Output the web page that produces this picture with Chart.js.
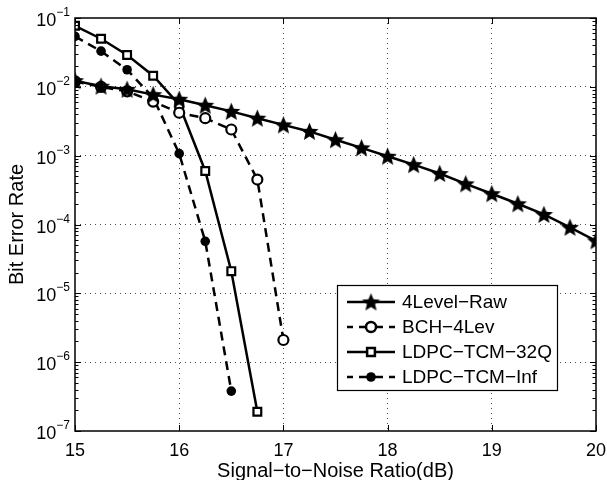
<!DOCTYPE html>
<html>
<head>
<title>Bit Error Rate vs SNR</title>
<script src="https://cdn.jsdelivr.net/npm/chart.js"></script>
<style>
  body { margin: 0; background: #fff; }
</style>
</head>
<body>
<canvas id="berChart" width="607" height="480"></canvas>
<script>
// x values (dB) and bit error rates
const snrRaw = [15, 15.25, 15.5, 15.75, 16, 16.25, 16.5, 16.75, 17, 17.25, 17.5,
                17.75, 18, 18.25, 18.5, 18.75, 19, 19.25, 19.5, 19.75, 20];
const berRaw = [1.23e-2, 1.02e-2, 9.2e-3, 7.7e-3, 6.6e-3, 5.4e-3, 4.4e-3, 3.5e-3, 2.8e-3, 2.25e-3, 1.7e-3,
                1.3e-3, 9.8e-4, 7.4e-4, 5.5e-4, 3.9e-4, 2.8e-4, 2.0e-4, 1.4e-4, 9.1e-5, 5.8e-5];

const snrBch = [15, 15.25, 15.5, 15.75, 16, 16.25, 16.5, 16.75, 17];
const berBch = [1.2e-2, 1.0e-2, 8.6e-3, 6.1e-3, 4.2e-3, 3.5e-3, 2.4e-3, 4.5e-4, 2.1e-6];

const snr32Q = [15, 15.25, 15.5, 15.75, 16, 16.25, 16.5, 16.75];
const ber32Q = [7.7e-2, 5.0e-2, 2.9e-2, 1.45e-2, 5.5e-3, 6.0e-4, 2.1e-5, 1.9e-7];

const snrInf = [15, 15.25, 15.5, 15.75, 16, 16.25, 16.5];
const berInf = [5.4e-2, 3.3e-2, 1.77e-2, 7.0e-3, 1.07e-3, 5.7e-5, 3.8e-7];

const seriesNames = ['4Level\u2212Raw', 'BCH\u22124Lev', 'LDPC\u2212TCM\u221232Q', 'LDPC\u2212TCM\u2212Inf'];
const xTicks = [15, 16, 17, 18, 19, 20];
const yExponents = [-7, -6, -5, -4, -3, -2, -1];

const FONT = "'Liberation Sans', Arial, Helvetica, sans-serif";

function pts(xs, ys) { return xs.map((x, i) => ({ x: x, y: ys[i] })); }

function makeStar(r) {
  const c = document.createElement('canvas');
  const s = Math.ceil(r * 2 + 2);
  c.width = s; c.height = s;
  const g = c.getContext('2d');
  g.beginPath();
  for (let i = 0; i < 10; i++) {
    const rad = i % 2 ? r * 0.45 : r;
    const a = -Math.PI / 2 + i * Math.PI / 5;
    g.lineTo(s / 2 + rad * Math.cos(a), s / 2 + rad * Math.sin(a) + r * 0.08);
  }
  g.closePath();
  g.fillStyle = '#000';
  g.fill();
  return c;
}
const starImg = makeStar(9.5);

function isPow10(v) {
  const e = Math.log10(v);
  return Math.abs(e - Math.round(e)) < 1e-9;
}

// inward tick marks, box around the axes, and 10^k labels with a raised exponent
const framePlugin = {
  id: 'frame',
  afterDatasetsDraw(chart) {
    const { ctx, chartArea: a, scales } = chart;
    ctx.save();
    ctx.strokeStyle = '#000';
    ctx.lineWidth = 1;
    ctx.setLineDash([]);
    scales.x.ticks.forEach(t => {
      const px = Math.round(scales.x.getPixelForValue(t.value)) + 0.5;
      ctx.beginPath();
      ctx.moveTo(px, a.bottom); ctx.lineTo(px, a.bottom - 6);
      ctx.moveTo(px, a.top); ctx.lineTo(px, a.top + 6);
      ctx.stroke();
    });
    scales.y.ticks.forEach(t => {
      const py = Math.round(scales.y.getPixelForValue(t.value)) + 0.5;
      const len = isPow10(t.value) ? 6 : 3.5;
      ctx.beginPath();
      ctx.moveTo(a.left, py); ctx.lineTo(a.left + len, py);
      ctx.moveTo(a.right, py); ctx.lineTo(a.right - len, py);
      ctx.stroke();
    });
    ctx.lineWidth = 1.5;
    ctx.strokeRect(a.left, a.top, a.right - a.left, a.bottom - a.top);

    ctx.fillStyle = '#000';
    ctx.textBaseline = 'alphabetic';
    ctx.textAlign = 'left';
    yExponents.forEach(e => {
      const py = scales.y.getPixelForValue(Math.pow(10, e));
      const exp = '\u2212' + Math.abs(e);
      ctx.font = '12px ' + FONT;
      const ew = ctx.measureText(exp).width;
      ctx.font = '18px ' + FONT;
      const bw = ctx.measureText('10').width;
      const right = a.left - 5;
      ctx.fillText('10', right - ew - bw, py + 8);
      ctx.font = '12px ' + FONT;
      ctx.fillText(exp, right - ew, py - 2);
    });
    ctx.restore();
  }
};

// legend box in the lower right of the axes
const legendBoxPlugin = {
  id: 'legendBox',
  afterDraw(chart) {
    const { ctx, chartArea: a } = chart;
    const left = a.left + 262, top = a.top + 267, w = 220, h = 105;
    ctx.save();
    ctx.fillStyle = '#fff';
    ctx.fillRect(left, top, w, h);
    ctx.strokeStyle = '#000';
    ctx.lineWidth = 1.2;
    ctx.strokeRect(left + 0.5, top + 0.5, w, h);
    chart.data.datasets.forEach((ds, i) => {
      const y = top + 17 + i * 25;
      ctx.strokeStyle = '#000';
      ctx.lineWidth = ds.borderWidth;
      ctx.setLineDash(ds.borderDash || []);
      ctx.lineDashOffset = ds.borderDash ? 3 : 0;
      ctx.beginPath();
      ctx.moveTo(left + 10, y); ctx.lineTo(left + 58, y);
      ctx.stroke();
      ctx.setLineDash([]);
      ctx.fillStyle = ds.pointBackgroundColor;
      ctx.strokeStyle = ds.pointBorderColor;
      Chart.helpers.drawPoint(ctx, {
        pointStyle: ds.pointStyle, rotation: 0,
        radius: ds.pointRadius, borderWidth: ds.pointBorderWidth
      }, left + 34, y);
      ctx.fillStyle = '#000';
      ctx.font = '19px ' + FONT;
      ctx.textBaseline = 'middle';
      ctx.textAlign = 'left';
      ctx.fillText(ds.label, left + 65, y + 1);
    });
    ctx.restore();
  }
};

const lineBase = { borderColor: '#000', borderWidth: 2.5, pointBorderColor: '#000', tension: 0 };

new Chart(document.getElementById('berChart'), {
  type: 'line',
  data: {
    datasets: [
      Object.assign({}, lineBase, {
        label: seriesNames[0], data: pts(snrRaw, berRaw),
        pointStyle: starImg, pointRadius: 9, pointBackgroundColor: '#000', pointBorderWidth: 0
      }),
      Object.assign({}, lineBase, {
        label: seriesNames[1], data: pts(snrBch, berBch), borderDash: [9, 6],
        pointStyle: 'circle', pointRadius: 5, pointBackgroundColor: '#fff', pointBorderWidth: 2.2
      }),
      Object.assign({}, lineBase, {
        label: seriesNames[2], data: pts(snr32Q, ber32Q),
        pointStyle: 'rect', pointRadius: 5.5, pointBackgroundColor: '#fff', pointBorderWidth: 2.2
      }),
      Object.assign({}, lineBase, {
        label: seriesNames[3], data: pts(snrInf, berInf), borderDash: [9, 6],
        pointStyle: 'circle', pointRadius: 4.8, pointBackgroundColor: '#000', pointBorderWidth: 0
      })
    ]
  },
  options: {
    responsive: false,
    animation: false,
    devicePixelRatio: 1,
    layout: { autoPadding: false, padding: { top: 18, right: 11, left: 0, bottom: 0 } },
    plugins: { legend: { display: false }, tooltip: { enabled: false } },
    scales: {
      x: {
        type: 'linear', min: 15, max: 20,
        afterFit(s) { s.height = 49; s.paddingLeft = 0; s.paddingRight = 0; },
        afterBuildTicks(s) { s.ticks = xTicks.map(v => ({ value: v })); },
        ticks: { color: '#000', font: { family: FONT, size: 18 }, padding: 9, maxRotation: 0 },
        grid: {
          drawTicks: false, lineWidth: 1,
          color: c => (c.tick && c.tick.value > 15 && c.tick.value < 20) ? 'rgba(0,0,0,0.7)' : 'rgba(0,0,0,0)'
        },
        border: { display: false, dash: [1, 4] },
        title: { display: true, text: 'Signal\u2212to\u2212Noise Ratio(dB)', color: '#000',
                 font: { family: FONT, size: 20 }, padding: { top: 0, bottom: -3 } }
      },
      y: {
        type: 'logarithmic', min: 1e-7, max: 1e-1,
        afterFit(s) { s.width = 75; s.paddingTop = 0; s.paddingBottom = 0; },
        afterBuildTicks(s) {
          const t = [];
          yExponents.forEach(e => {
            for (let m = 1; m <= 9; m++) {
              const v = m * Math.pow(10, e);
              if (v <= 1.0001e-1) t.push({ value: v });
            }
          });
          s.ticks = t;
        },
        ticks: { display: false, autoSkip: false },
        grid: {
          drawTicks: false, lineWidth: 1,
          color: c => (c.tick && isPow10(c.tick.value) && c.tick.value < 0.09 && c.tick.value > 1.1e-7)
            ? 'rgba(0,0,0,0.7)' : 'rgba(0,0,0,0)'
        },
        border: { display: false, dash: [1, 4] },
        title: { display: true, text: 'Bit Error Rate', color: '#000',
                 font: { family: FONT, size: 20 }, padding: { top: 5, bottom: 0 } }
      }
    }
  },
  plugins: [framePlugin, legendBoxPlugin]
});
</script>
</body>
</html>
